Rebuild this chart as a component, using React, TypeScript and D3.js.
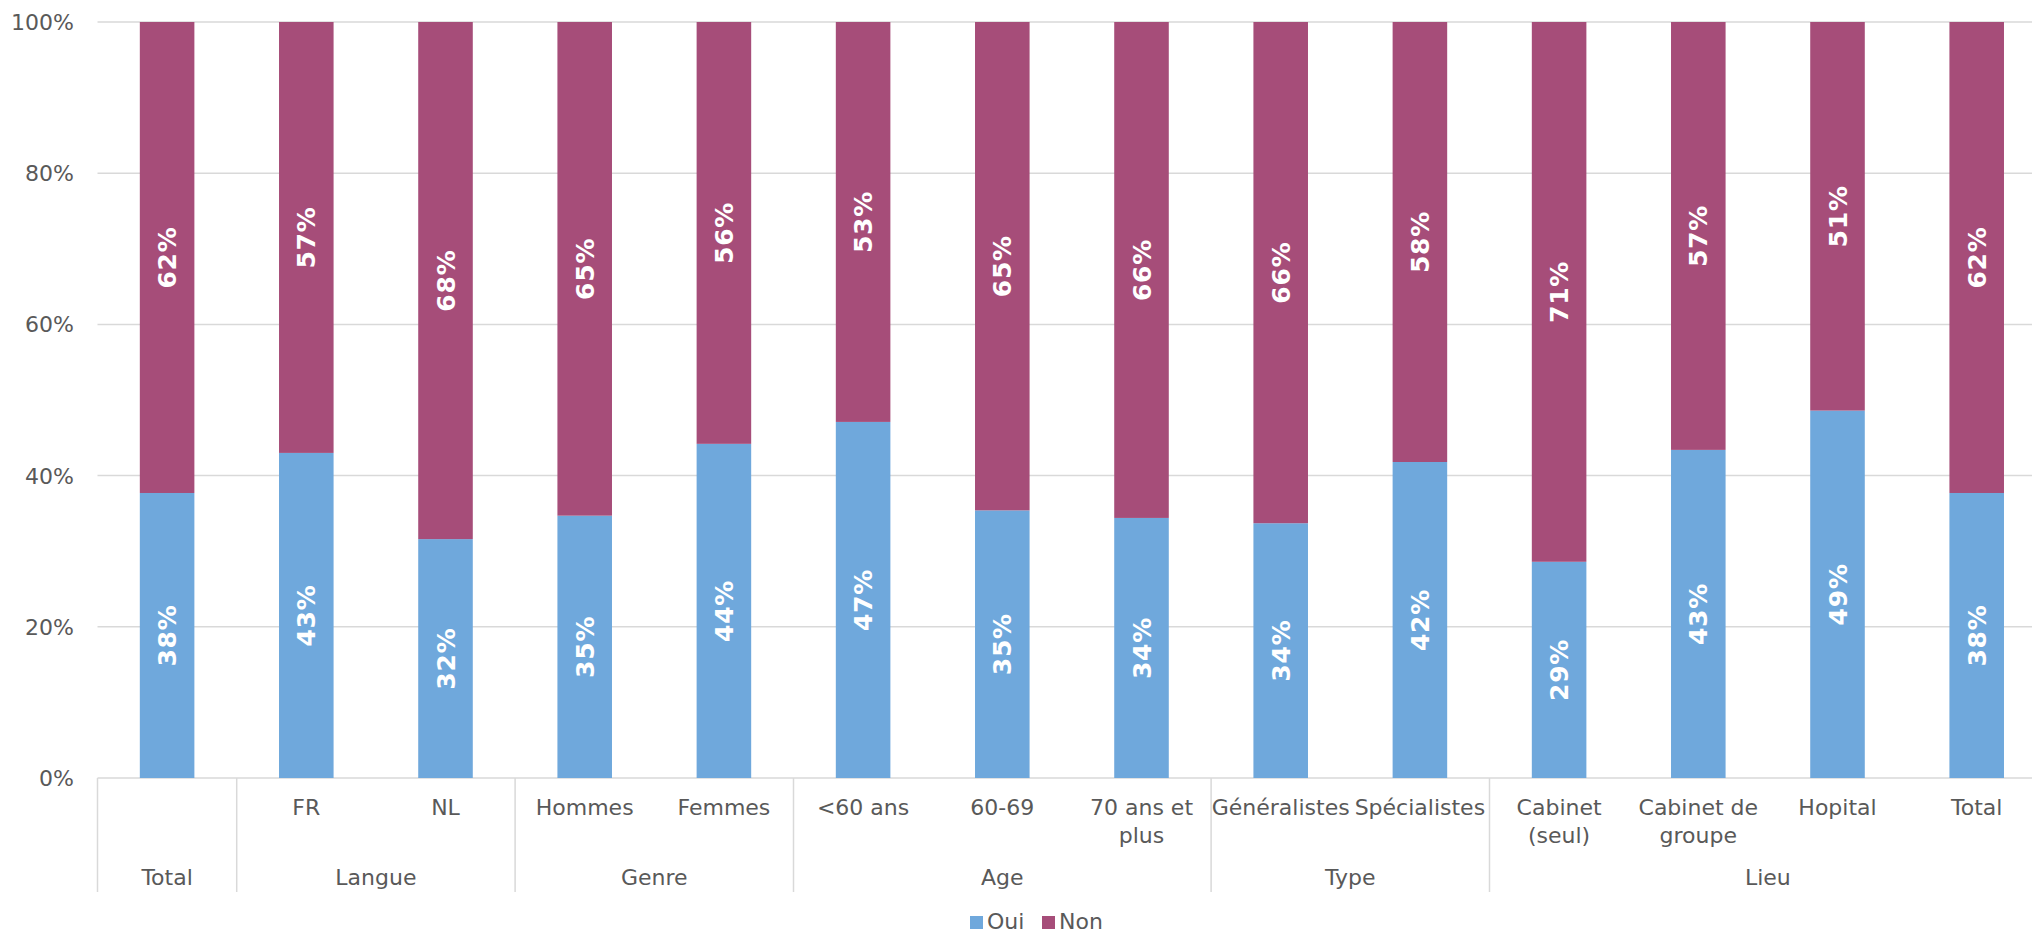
import React from "react";
import * as d3 from "d3";

const categories = [
  "", "FR", "NL", "Hommes", "Femmes", "<60 ans", "60-69", "70 ans et\nplus",
  "Généralistes", "Spécialistes", "Cabinet\n(seul)", "Cabinet de\ngroupe", "Hopital", "Total",
];
const groupNames = ["Total", "Langue", "Genre", "Age", "Type", "Lieu"];
const groupSizes = [1, 2, 2, 3, 2, 4];
const oui = [37.7, 43.0, 31.6, 34.7, 44.2, 47.1, 35.4, 34.4, 33.7, 41.8, 28.6, 43.4, 48.6, 37.7];
const non = [62.3, 57.0, 68.4, 65.3, 55.8, 52.9, 64.6, 65.6, 66.3, 58.2, 71.4, 56.6, 51.4, 62.3];
const yTicks = [0, 20, 40, 60, 80, 100];
const seriesNames = ["Oui", "Non"];
const seriesColors = ["#6fa8dc", "#a64d79"];

const W = 2032;
const H = 935;
const FONT = "'DejaVu Sans', Verdana, sans-serif";

export default function App() {
  const left = 97.5;
  const step = 139.2;
  const x = d3
    .scaleBand<number>()
    .domain(categories.map((_, i) => i))
    .range([left, left + step * categories.length])
    .padding(0);
  const y = d3.scaleLinear().domain([0, 100]).range([778, 22]);
  const barW = x.bandwidth() * 0.392;
  const axisBottom = 892;

  const stackData = categories.map((_, i) => ({ i, Oui: oui[i], Non: non[i] }));
  const stacked = d3.stack<any>().keys(seriesNames)(stackData);

  const bounds: number[] = [0];
  groupSizes.forEach((s) => bounds.push(bounds[bounds.length - 1] + s));

  const gridColor = "#d9d9d9";
  const textColor = "#595959";

  return (
    <svg
      width={W}
      height={H}
      style={{ position: "absolute", left: 0, top: 0, background: "#fff" }}
      fontFamily={FONT}
    >
      {yTicks.map((t) => (
        <line key={"g" + t} x1={left} x2={W} y1={y(t)} y2={y(t)} stroke={gridColor} strokeWidth={1.5} />
      ))}
      {yTicks.map((t) => (
        <text key={"yt" + t} x={74} y={y(t)} dy="0.36em" textAnchor="end" fontSize={22} fill={textColor}>
          {t}%
        </text>
      ))}
      {stacked.map((s, si) =>
        s.map((d, i) => (
          <rect
            key={"b" + si + "-" + i}
            x={(x(i) as number) + (x.bandwidth() - barW) / 2}
            y={y(d[1])}
            width={barW}
            height={y(d[0]) - y(d[1])}
            fill={seriesColors[si]}
          />
        ))
      )}
      {stacked.map((s, si) =>
        s.map((d, i) => {
          const cx = (x(i) as number) + x.bandwidth() / 2;
          const cy = (y(d[0]) + y(d[1])) / 2;
          const v = si === 0 ? oui[i] : non[i];
          return (
            <text
              key={"l" + si + "-" + i}
              transform={`translate(${cx},${cy}) rotate(-90)`}
              textAnchor="middle"
              dy="0.36em"
              fontSize={25}
              fontWeight="bold"
              fill="#fff"
              letterSpacing={0.8}
            >
              {Math.round(v)}%
            </text>
          );
        })
      )}
      {bounds.map((b, k) => (
        <line
          key={"s" + k}
          x1={left + b * step}
          x2={left + b * step}
          y1={y(0)}
          y2={axisBottom}
          stroke={gridColor}
          strokeWidth={1.5}
        />
      ))}
      {categories.map((c, i) => {
        const cx = (x(i) as number) + x.bandwidth() / 2;
        return (
          <text key={"c" + i} x={cx} y={815} textAnchor="middle" fontSize={22} fill={textColor}>
            {c.split("\n").map((ln, j) => (
              <tspan key={j} x={cx} dy={j === 0 ? 0 : 28}>
                {ln}
              </tspan>
            ))}
          </text>
        );
      })}
      {groupNames.map((g, k) => {
        const x0 = left + bounds[k] * step;
        const x1 = left + bounds[k + 1] * step;
        return (
          <text key={"gr" + g} x={(x0 + x1) / 2} y={885} textAnchor="middle" fontSize={22} fill={textColor}>
            {g}
          </text>
        );
      })}
      <g>
        <rect x={970} y={916} width={13} height={13} fill={seriesColors[0]} />
        <text x={987} y={929} fontSize={22} fill={textColor}>
          {seriesNames[0]}
        </text>
        <rect x={1042} y={916} width={13} height={13} fill={seriesColors[1]} />
        <text x={1059} y={929} fontSize={22} fill={textColor}>
          {seriesNames[1]}
        </text>
      </g>
    </svg>
  );
}
